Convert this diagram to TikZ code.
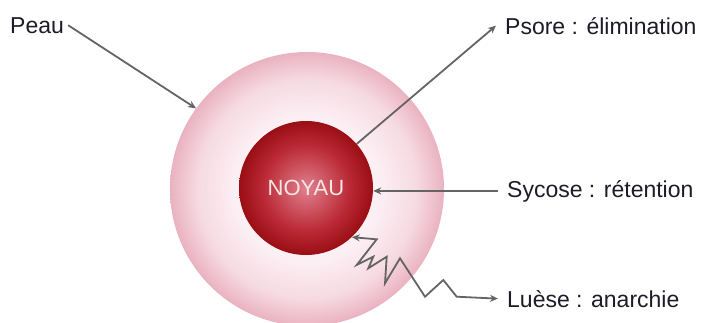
\documentclass[tikz,border=0pt]{standalone}
\usepackage{fontspec}
\setmainfont{Liberation Sans}
\usepackage{tikz}
\usetikzlibrary{arrows.meta}
\usepackage{xcolor}

\definecolor{skinlight}{HTML}{FCF0F4}
\definecolor{skinmid}{HTML}{F6DAE2}
\definecolor{skindark}{HTML}{EAB2C1}
\definecolor{corelight}{HTML}{E0808E}
\definecolor{coremid}{HTML}{BB2A36}
\definecolor{coredark}{HTML}{9A0E14}
\definecolor{arrowgray}{HTML}{646464}
\definecolor{labeltext}{HTML}{1C1C28}
\definecolor{coretext}{HTML}{F8E6E6}

\pgfdeclareradialshading{skinshade}{\pgfpoint{0bp}{0bp}}{color(0bp)=(skinlight); color(13bp)=(skinlight); color(20bp)=(skinmid); color(25bp)=(skindark); color(50bp)=(skindark)}
\pgfdeclareradialshading{coreshade}{\pgfpoint{0bp}{0bp}}{color(0bp)=(corelight); color(16bp)=(coremid); color(25bp)=(coredark); color(50bp)=(coredark)}

\tikzset{
  label/.style={font=\fontsize{23}{27}\selectfont, text=labeltext, inner ysep=0pt, inner xsep=9pt, anchor=base west},
  arrow/.style={draw=arrowgray, line width=1.8pt, -{Stealth[length=8pt,width=7pt]}}
}

\begin{document}
\begin{tikzpicture}[x=1pt,y=-1pt]
  \useasboundingbox (0,0) rectangle (703,322);
  % cell
  \node[circle, minimum size=274pt, inner sep=0pt, shading=skinshade] (skin) at (307,189) {};
  \node[circle, minimum size=134pt, inner sep=0pt, shading=coreshade,
        font=\fontsize{22}{26}\selectfont, text=coretext] (noyau) at (306,188) {NOYAU};
  % labels
  \node[label, inner xsep=4pt] (peau) at (6,33) {Peau};
  \node[label] (psore) at (496,34) {Psore : élimination};
  \node[label] (sycose) at (498,197) {Sycose : rétention};
  \node[label] (luese) at (498,307) {Luèse : anarchie};
  % arrows
  \draw[arrow] (peau.east) -- (skin.144);
  \draw[arrow] (noyau.41) -- (psore.west);
  \draw[arrow] (sycose.west) -- (sycose.west -| noyau.east);
  \draw[arrow, {Stealth[length=8pt,width=7pt]}-{Stealth[length=8pt,width=7pt]}]
    (luese.west) -- (456.7,296.7) -- (443.3,280) -- (425,296.7) -- (400,258.3)
    -- (385,283.3) -- (386.7,256.7) -- (368.3,268.3) -- (373.3,256.7)
    -- (356.7,265) -- (376.7,239.3) -- (noyau.-47);
\end{tikzpicture}
\end{document}
